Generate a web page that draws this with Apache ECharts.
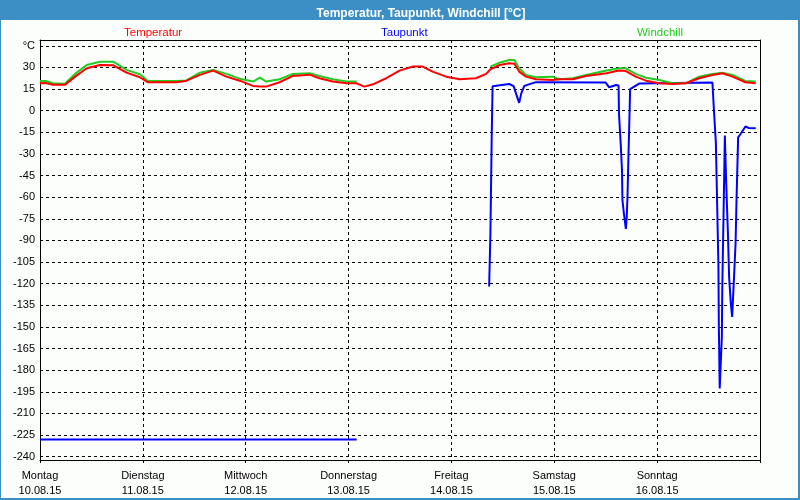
<!DOCTYPE html>
<html>
<head>
<meta charset="utf-8">
<script src="https://cdn.jsdelivr.net/npm/echarts@6/dist/echarts.min.js"></script>
<style>html,body{margin:0;padding:0;background:#fcfefc;}#c{width:800px;height:500px;}</style>
</head>
<body>
<div id="c"></div>
<script>
// Tick labels for the x axis (one per day, at hours 0,24,...,144)
var dayNames = ['Montag','Dienstag','Mittwoch','Donnerstag','Freitag','Samstag','Sonntag'];
var dayDates = ['10.08.15','11.08.15','12.08.15','13.08.15','14.08.15','15.08.15','16.08.15'];

// Temperatur (hours since Mon 10.08.15 00:00, °C)
var tempHours = [0,1.4,3,5.8,8.2,10.9,14,17.1,20.2,23.3,25.2,28,31.9,34.2,37.3,40.4,43.5,46.6,49.7,51.3,52.8,55.9,59,62.9,65.2,68.3,71.5,73.8,75.7,77.7,80.8,83.9,87,89.3,91.6,94.8,97.9,101.7,104.1,105.1,107.2,109.5,110.7,111.8,113.4,115.7,119.6,121.2,124.3,127.4,132.2,135.1,136.7,139,141.4,144.5,147.6,150.7,153.8,156.9,159.2,161.6,164.6,167];
var tempValues = [19,19.2,18,17.9,23.6,29.4,31.7,31.5,26.4,23.2,19.7,19.7,19.7,20.8,24.8,27.8,23.6,20.8,17.2,16.7,16.7,19.7,24.1,25,22.5,20.2,19,19,16.7,18.3,22.5,27.8,30.6,30.6,27.1,23.6,21.8,22.5,25.5,28.7,31.7,32.9,32.6,27.1,23.6,21.8,21.3,21.8,21.8,24.1,26,27.8,27.5,23.6,20.8,19,18.5,19,22.5,24.8,26,23.6,19.7,19];

// Windchill ('-' = no data)
var windHours = [0,1.4,3,5.8,8.2,10.9,14,17.1,20.2,23.3,25.2,28,31.9,34.2,37.3,40.4,43.5,46.6,49.7,51.3,52.8,55.9,59,62.9,65.2,68.3,71.5,73.9,90,105.1,107.2,109.5,110.7,111.8,113.4,115.7,119.6,121.2,124.3,127.4,132.2,135.1,136.7,139,141.4,144.5,147.6,150.7,153.8,156.9,159.2,161.6,164.6,167];
var windValues = [20.6,20.6,19,18.7,25.5,31.7,34,34,28.3,25.3,20.6,20.6,20.6,21,26.4,28.3,25.5,22.2,20.2,22.9,20.2,21.8,25.5,26,24.1,21.8,20.2,20.2,'-',30.6,33.3,35.2,35.2,29.4,24.8,23.2,23.6,21.8,22.5,24.8,27.8,29.4,29.4,25.5,22.9,21.3,19,19,23.6,25.5,26.4,24.8,20.6,20.2];

// Taupunkt ('-' = no data)
var dewHours = [0,73.9,90,104.8,105.1,105.4,105.6,109.5,110.5,111.8,112.3,113,115.7,132,132.8,134.4,135,135.1,135.5,135.8,135.9,136.3,136.7,136.9,137.1,137.3,137.5,137.7,139.8,156.9,157.3,157.7,158,158.3,158.4,158.6,158.8,159.1,159.2,159.4,159.6,159.8,160,160.1,160.5,160.8,161.2,161.5,161.9,162.3,162.5,162.9,163.5,164.6,165.4,167];
var dewValues = [-228,-228,'-',-122,-85,-18,17,18.5,17,5.4,12,17.2,19.8,19.5,16.2,17.8,17.5,-2.3,-23,-41.5,-62,-72.7,-82,-74,-58,-32,-9,15,18.8,19.5,-2.3,-22,-64.6,-108,-150,-192.7,-192.7,-157,-122.5,-88,-53.5,-17.3,-17.3,-49,-83.5,-115.8,-134,-143,-118,-92,-64.6,-18.5,-16,-11,-12,-12.2];

function zip(h, v) { return h.map(function (x, i) { return [x, v[i]]; }); }

var FONT = 'Liberation Sans';
var BLUE_FRAME = '#3b8fc4';
var chart = echarts.init(document.getElementById('c'), null, {renderer: 'canvas'});
var legendBase = {
  orient: 'horizontal', top: 22, icon: 'none', itemWidth: 0, itemHeight: 12, itemGap: 0,
  selectedMode: false, textStyle: {fontFamily: FONT, fontSize: 11.5}
};
var frameLine = {show: true, onZero: false, lineStyle: {color: '#000', width: 1}};
chart.setOption({
  animation: false,
  backgroundColor: '#fcfefc',
  title: {
    text: 'Temperatur, Taupunkt, Windchill [°C]',
    left: 416, top: 3, textAlign: 'center', z: 10,
    textStyle: {color: '#ffffff', fontFamily: FONT, fontSize: 12, fontWeight: 'bold'}
  },
  graphic: [
    {type: 'rect', shape: {x: 0, y: 0, width: 800, height: 20}, style: {fill: BLUE_FRAME}, z: 1},
    {type: 'rect', shape: {x: 0, y: 0, width: 1, height: 500}, style: {fill: BLUE_FRAME}, z: 1},
    {type: 'rect', shape: {x: 798, y: 0, width: 2, height: 500}, style: {fill: BLUE_FRAME}, z: 1},
    {type: 'rect', shape: {x: 0, y: 498, width: 800, height: 2}, style: {fill: BLUE_FRAME}, z: 1}
  ],
  legend: [
    Object.assign({}, legendBase, {left: 114, data: [{name: 'Temperatur', textStyle: {color: '#ff0000'}}]}),
    Object.assign({}, legendBase, {left: 371, data: [{name: 'Taupunkt', textStyle: {color: '#0000ff'}}]}),
    Object.assign({}, legendBase, {left: 627, data: [{name: 'Windchill', textStyle: {color: '#22cc22'}}]})
  ],
  grid: [
    {left: 40, right: 40, top: 45.8, bottom: 43.3},
    {left: 40, right: 40, top: 40, bottom: 40}
  ],
  xAxis: [
    {gridIndex: 0, type: 'value', min: 0, max: 168, interval: 24,
     axisLine: {show: false}, axisTick: {show: false}, axisLabel: {show: false}, splitLine: {show: false}},
    {gridIndex: 1, type: 'value', min: 0, max: 168, interval: 24, position: 'bottom',
     axisLine: frameLine,
     axisTick: {show: true, length: 3, lineStyle: {color: '#000'}},
     axisLabel: {show: true, margin: 8, color: '#000', fontFamily: FONT, fontSize: 11, lineHeight: 15,
       formatter: function (v) { var i = Math.round(v / 24); return i < dayNames.length ? dayNames[i] + '\n' + dayDates[i] : ''; }},
     splitLine: {show: true, lineStyle: {color: '#000', type: [3, 3], width: 1}}},
    {gridIndex: 1, type: 'value', min: 0, max: 168, position: 'top',
     axisLine: frameLine, axisTick: {show: false}, axisLabel: {show: false}, splitLine: {show: false}}
  ],
  yAxis: [
    {gridIndex: 0, type: 'value', min: -240, max: 45, interval: 15,
     axisLine: {show: false}, axisTick: {show: false},
     axisLabel: {show: true, margin: 5, color: '#000', fontFamily: FONT, fontSize: 11,
       formatter: function (v) { return v === 45 ? '°C' : String(v); }},
     splitLine: {show: true, lineStyle: {color: '#000', type: [3, 3], width: 1}}},
    {gridIndex: 1, type: 'value', min: 0, max: 1, position: 'left',
     axisLine: frameLine, axisTick: {show: false}, axisLabel: {show: false}, splitLine: {show: false}},
    {gridIndex: 1, type: 'value', min: 0, max: 1, position: 'right',
     axisLine: frameLine, axisTick: {show: false}, axisLabel: {show: false}, splitLine: {show: false}}
  ],
  series: [
    {name: 'Taupunkt', type: 'line', xAxisIndex: 0, yAxisIndex: 0, data: zip(dewHours, dewValues),
     showSymbol: false, symbol: 'none', connectNulls: false, lineStyle: {color: '#0000ff', width: 2}, itemStyle: {color: '#0000ff'}, z: 3},
    {name: 'Windchill', type: 'line', xAxisIndex: 0, yAxisIndex: 0, data: zip(windHours, windValues),
     showSymbol: false, symbol: 'none', connectNulls: false, lineStyle: {color: '#22cc22', width: 2}, itemStyle: {color: '#22cc22'}, z: 4},
    {name: 'Temperatur', type: 'line', xAxisIndex: 0, yAxisIndex: 0, data: zip(tempHours, tempValues),
     showSymbol: false, symbol: 'none', lineStyle: {color: '#ff0000', width: 2}, itemStyle: {color: '#ff0000'}, z: 5}
  ]
});
</script>
</body>
</html>
